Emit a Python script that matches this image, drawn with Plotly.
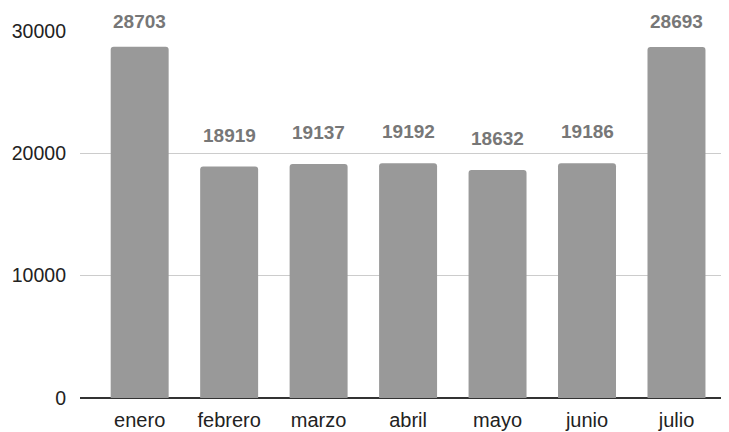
import plotly.graph_objects as go

months = ["enero", "febrero", "marzo", "abril", "mayo", "junio", "julio"]
values = [28703, 18919, 19137, 19192, 18632, 19186, 28693]
y_ticks = [0, 10000, 20000, 30000]

fig = go.Figure()
fig.add_trace(go.Bar(
    x=months, y=values,
    marker=dict(color="#999999", cornerradius=3, line=dict(width=0)),
    width=0.648,
))

for m, v in zip(months, values):
    shift = 14 if v > 27000 else 20  # keep top labels inside the page
    fig.add_annotation(x=m, y=v, text=f"<b>{v}</b>", showarrow=False,
                       yanchor="bottom", yshift=shift, borderpad=0,
                       font=dict(family="Liberation Sans, Arial", size=19, color="#777777"))

fig.update_layout(
    width=721, height=424,
    margin=dict(l=72, r=0, t=23, b=34),
    paper_bgcolor="white", plot_bgcolor="white",
    showlegend=False,
    font=dict(family="Liberation Sans, Arial", size=19, color="#222222"),
)
fig.update_xaxes(range=[-0.667, 6.587], showgrid=False, ticks="", showline=False,
                 ticklabelstandoff=8,
                 tickfont=dict(size=20, color="#222222"))
fig.update_yaxes(range=[0, 30000], tickvals=y_ticks, ticktext=[str(t) for t in y_ticks],
                 showgrid=True, gridcolor="#cccccc", gridwidth=1,
                 zeroline=True, zerolinecolor="#333333", zerolinewidth=2,
                 ticks="", ticklabelstandoff=13,
                 tickfont=dict(size=19.5, color="#222222"))

fig.write_html("out.html")
